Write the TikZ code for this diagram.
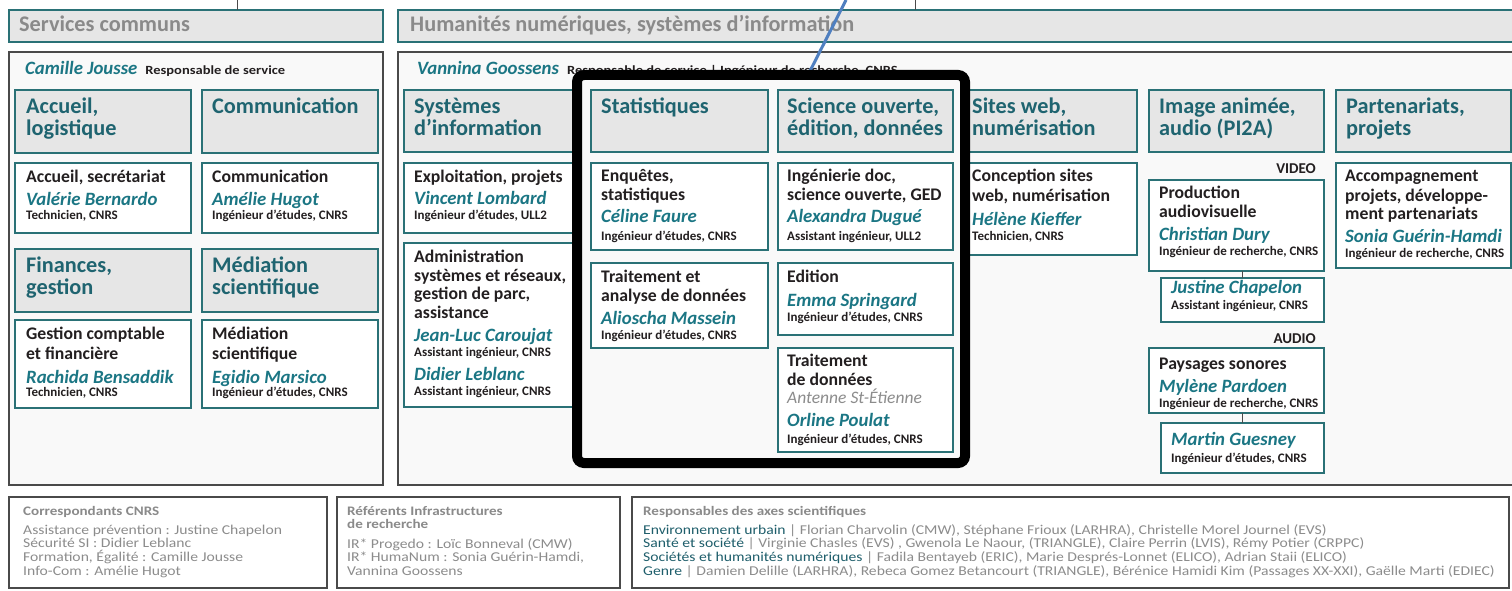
\documentclass[tikz,border=0pt]{standalone}
\usepackage{fontspec}
\setmainfont{Carlito}
\newfontfamily\botf{Carlito}[FakeStretch=1.16]
\definecolor{bord}{HTML}{2A7176}
\definecolor{hfill}{HTML}{E6E6E6}
\definecolor{htxt}{HTML}{1F6470}
\definecolor{nmcol}{HTML}{1B7684}
\definecolor{dtxt}{HTML}{231F20}
\definecolor{gtxt}{HTML}{8C8C8C}
\definecolor{grpb}{HTML}{4A4A4A}
\definecolor{grpf}{HTML}{F9F9F9}
\definecolor{bluel}{HTML}{4F7FC0}
\definecolor{axc}{HTML}{1E5E6B}
\definecolor{hdgray}{HTML}{8A8A8A}
\newcommand\Nm[1]{{\fontsize{18.8}{0}\selectfont\bfseries\itshape\color{nmcol}#1}}
\newcommand\Ro[1]{{\fontsize{13}{0}\selectfont\bfseries #1}}
\newcommand\St[1]{\rule{0pt}{#1pt}}
\newcommand\LsK{\lineskiplimit=-100pt\relax}
\newcommand\Ax[1]{{\color{axc}#1}}
\newcommand\Bt[1]{{\fontsize{13}{0}\selectfont\bfseries\color{hdgray}#1}}
\newcommand\Rs[1]{{\botf\fontsize{12.5}{14}\selectfont\bfseries\color{dtxt}#1}}
\tikzset{
  hdr/.style={draw=bord, line width=1.5pt, fill=hfill, anchor=north west, inner sep=0pt, outer sep=0pt},
  cbox/.style={draw=bord, line width=1.5pt, fill=white, anchor=north west, inner sep=0pt, outer sep=0pt},
  grp/.style={draw=grpb, line width=1.6pt, fill=grpf, anchor=north west, inner sep=0pt, outer sep=0pt},
  bbox/.style={draw=grpb, line width=1.4pt, fill=white, anchor=north west, inner sep=0pt, outer sep=0pt},
  htx/.style={anchor=north west, inner sep=0pt, align=left, text=htxt, font=\fontsize{22.3}{0}\selectfont\bfseries\LsK},
  ctx/.style={anchor=north west, inner sep=0pt, align=left, text=dtxt, font=\fontsize{17.7}{0}\selectfont\bfseries\LsK},
  btx/.style={anchor=north west, inner sep=0pt, align=left, text=gtxt, font=\botf\fontsize{13.5}{0}\selectfont\LsK},
  lbl/.style={anchor=base east, inner sep=0pt, text=dtxt, font=\fontsize{15}{0}\selectfont\bfseries},
  conn/.style={draw=grpb, line width=0.8pt},
  blk/.style={draw=black, line width=10pt, rounded corners=7pt, fill=grpf, anchor=north west, inner sep=0pt, outer sep=0pt},
}
\begin{document}
\begin{tikzpicture}[x=1pt,y=-1pt]
\useasboundingbox (0,0) rectangle (1512,591);
\fill[white] (0,0) rectangle (1512,591);
\coordinate (t1) at (237,0);
\coordinate (t2) at (915,0);

% ===== Services communs =====
\node[hdr, minimum width=374pt, minimum height=32pt] (hSC) at (9,10) {};
\node[htx, text=hdgray] (hSCt) at ([shift={(10pt,-4pt)}]hSC.north west) {\St{17}Services communs};
\draw[conn] (t1) -- (t1 |- hSC.north);
\node[grp, minimum width=374pt, minimum height=433pt] (gSC) at (9,52) {};
\node[anchor=base west, inner sep=0pt] (cj) at (25,75) {\Nm{Camille Jousse}\hspace{8pt}\Rs{Responsable de service}};

\node[hdr, minimum width=176pt, minimum height=63pt] (acc) at (15,90) {};
\node[htx] (accT) at ([shift={(11pt,-6pt)}]acc.north west) {\St{17}Accueil,\\[22pt]logistique};
\node[hdr, minimum width=176pt, minimum height=63pt] (com) at (202,90) {};
\node[htx] (comT) at ([shift={(10pt,-6pt)}]com.north west) {\St{17}Communication};

\node[cbox, minimum width=176pt, minimum height=70pt] (accB) at (15,163) {};
\node[ctx] (accBt) at ([shift={(11pt,-5pt)}]accB.north west) {\St{14}Accueil, secrétariat\\[23pt]\Nm{Valérie Bernardo}\\[14pt]\Ro{Technicien, CNRS}};
\node[cbox, minimum width=176pt, minimum height=70pt] (comB) at (202,163) {};
\node[ctx] (comBt) at ([shift={(10pt,-5pt)}]comB.north west) {\St{14}Communication\\[23pt]\Nm{Amélie Hugot}\\[14pt]\Ro{Ingénieur d’études, CNRS}};

\node[hdr, minimum width=176pt, minimum height=63pt] (fin) at (15,249) {};
\node[htx] (finT) at ([shift={(11pt,-6pt)}]fin.north west) {\St{17}Finances,\\[22pt]gestion};
\node[hdr, minimum width=176pt, minimum height=63pt] (med) at (202,249) {};
\node[htx] (medT) at ([shift={(10pt,-6pt)}]med.north west) {\St{17}Médiation\\[22pt]scientifique};

\node[cbox, minimum width=176pt, minimum height=88pt] (finB) at (15,320) {};
\node[ctx] (finBt) at ([shift={(11pt,-5pt)}]finB.north west) {\St{14}Gestion comptable\\[20pt]et financière\\[24pt]\Nm{Rachida Bensaddik}\\[13pt]\Ro{Technicien, CNRS}};
\node[cbox, minimum width=176pt, minimum height=88pt] (medB) at (202,320) {};
\node[ctx] (medBt) at ([shift={(10pt,-5pt)}]medB.north west) {\St{14}Médiation\\[20pt]scientifique\\[24pt]\Nm{Egidio Marsico}\\[13pt]\Ro{Ingénieur d’études, CNRS}};

% ===== Humanités numériques =====
\node[hdr, minimum width=1125pt, minimum height=32pt] (hHN) at (398,10) {};
\node[htx, text=hdgray] (hHNt) at ([shift={(12pt,-4pt)}]hHN.north west) {\St{17}Humanités numériques, systèmes d’information};
\draw[conn] (t2) -- (t2 |- hHN.north);
\node[grp, minimum width=1125pt, minimum height=433pt] (gHN) at (398,52) {};
\node[anchor=base west, inner sep=0pt] (vg) at (417,75) {\Nm{Vannina Goossens}\hspace{8pt}\Rs{Responsable de service | Ingénieur de recherche, CNRS}};

% Systemes d'information
\node[hdr, minimum width=176pt, minimum height=62pt] (sys) at (404,90) {};
\node[htx] (sysT) at ([shift={(10pt,-6pt)}]sys.north west) {\St{17}Systèmes\\[22pt]d’information};
\node[cbox, minimum width=176pt, minimum height=70pt] (sysB1) at (404,163) {};
\node[ctx] (sysB1t) at ([shift={(10pt,-5pt)}]sysB1.north west) {\St{14}Exploitation, projets\\[22pt]\Nm{Vincent Lombard}\\[15pt]\Ro{Ingénieur d’études, ULL2}};
\node[cbox, minimum width=176pt, minimum height=164pt] (sysB2) at (404,243) {};
\node[ctx] (sysB2t) at ([shift={(10pt,-5pt)}]sysB2.north west) {\St{14}Administration\\[19pt]systèmes et réseaux,\\[18pt]gestion de parc,\\[19pt]assistance\\[23pt]\Nm{Jean-Luc Caroujat}\\[15pt]\Ro{Assistant ingénieur, CNRS}\\[24pt]\Nm{Didier Leblanc}\\[15pt]\Ro{Assistant ingénieur, CNRS}};

% Sites web
\node[hdr, minimum width=175pt, minimum height=62pt] (web) at (962,90) {};
\node[htx] (webT) at ([shift={(10pt,-6pt)}]web.north west) {\St{17}Sites web,\\[22pt]numérisation};
\node[cbox, minimum width=175pt, minimum height=92pt] (webB) at (962,163) {};
\node[ctx] (webBt) at ([shift={(10pt,-4pt)}]webB.north west) {\St{14}Conception sites\\[20pt]web, numérisation\\[24pt]\Nm{Hélène Kieffer}\\[15pt]\Ro{Technicien, CNRS}};

% pointer line and highlight frame
\coordinate (bl1) at (846,0);
\coordinate (bl2) at (809,73);
\draw[bluel, line width=3pt] (bl1) -- (bl2);
\node[blk, minimum width=388pt, minimum height=388pt] (hl) at (577,75) {};

% Statistiques
\node[hdr, minimum width=177pt, minimum height=62pt] (sta) at (591,90) {};
\node[htx] (staT) at ([shift={(10pt,-6pt)}]sta.north west) {\St{17}Statistiques};
\node[cbox, minimum width=177pt, minimum height=87pt] (staB1) at (591,163) {};
\node[ctx] (staB1t) at ([shift={(10pt,-4pt)}]staB1.north west) {\St{14}Enquêtes,\\[19pt]statistiques\\[22pt]\Nm{Céline Faure}\\[18pt]\Ro{Ingénieur d’études, CNRS}};
\node[cbox, minimum width=177pt, minimum height=85pt] (staB2) at (591,263) {};
\node[ctx] (staB2t) at ([shift={(10pt,-5pt)}]staB2.north west) {\St{14}Traitement et\\[19pt]analyse de données\\[23pt]\Nm{Alioscha Massein}\\[15pt]\Ro{Ingénieur d’études, CNRS}};

% Science ouverte
\node[hdr, minimum width=175pt, minimum height=62pt] (sci) at (778,90) {};
\node[htx] (sciT) at ([shift={(9pt,-6pt)}]sci.north west) {\St{17}Science ouverte,\\[22pt]édition, données};
\node[cbox, minimum width=175pt, minimum height=87pt] (sciB1) at (778,163) {};
\node[ctx] (sciB1t) at ([shift={(9pt,-4pt)}]sciB1.north west) {\St{14}Ingénierie doc,\\[19pt]science ouverte, GED\\[22pt]\Nm{Alexandra Dugué}\\[18pt]\Ro{Assistant ingénieur, ULL2}};
\node[cbox, minimum width=175pt, minimum height=72pt] (sciB2) at (778,263) {};
\node[ctx] (sciB2t) at ([shift={(9pt,-5pt)}]sciB2.north west) {\St{14}Edition\\[24pt]\Nm{Emma Springard}\\[15pt]\Ro{Ingénieur d’études, CNRS}};
\node[cbox, minimum width=175pt, minimum height=104pt] (sciB3) at (778,348) {};
\node[ctx] (sciB3t) at ([shift={(9pt,-4pt)}]sciB3.north west) {\St{14}Traitement\\[19pt]de données\\[18pt]{\fontsize{17.5}{0}\selectfont\mdseries\itshape\color{gtxt}Antenne St-Étienne}\\[23pt]\Nm{Orline Poulat}\\[17pt]\Ro{Ingénieur d’études, CNRS}};

% Image animee
\node[hdr, minimum width=175pt, minimum height=62pt] (img) at (1149,90) {};
\node[htx] (imgT) at ([shift={(10pt,-6pt)}]img.north west) {\St{17}Image animée,\\[22pt]audio (PI2A)};
\node[lbl] (vid) at (1316,173) {VIDEO};
\node[cbox, minimum width=175pt, minimum height=91pt] (imgB1) at (1149,180) {};
\node[ctx] (imgB1t) at ([shift={(10pt,-4pt)}]imgB1.north west) {\St{14}Production\\[19pt]audiovisuelle\\[23pt]\Nm{Christian Dury}\\[15pt]\Ro{Ingénieur de recherche, CNRS}};
\node[cbox, minimum width=163pt, minimum height=44pt] (imgB2) at (1161,278) {};
\node[ctx] (imgB2t) at ([shift={(10pt,-1pt)}]imgB2.north west) {\St{14}\Nm{Justine Chapelon}\\[16pt]\Ro{Assistant ingénieur, CNRS}};
\draw[conn] (imgB2.north) -- (imgB2.north |- imgB1.south);
\node[lbl] (aud) at (1316,343) {AUDIO};
\node[cbox, minimum width=175pt, minimum height=65pt] (imgB3) at (1149,348) {};
\node[ctx] (imgB3t) at ([shift={(10pt,-7pt)}]imgB3.north west) {\St{14}Paysages sonores\\[23pt]\Nm{Mylène Pardoen}\\[15pt]\Ro{Ingénieur de recherche, CNRS}};
\node[cbox, minimum width=163pt, minimum height=50pt] (imgB4) at (1161,423) {};
\node[ctx] (imgB4t) at ([shift={(10pt,-8pt)}]imgB4.north west) {\St{14}\Nm{Martin Guesney}\\[17pt]\Ro{Ingénieur d’études, CNRS}};
\draw[conn] (imgB4.north) -- (imgB4.north |- imgB3.south);

% Partenariats
\node[hdr, minimum width=175pt, minimum height=62pt] (par) at (1336,90) {};
\node[htx] (parT) at ([shift={(10pt,-6pt)}]par.north west) {\St{17}Partenariats,\\[22pt]projets};
\node[cbox, minimum width=175pt, minimum height=105pt] (parB) at (1336,163) {};
\node[ctx] (parBt) at ([shift={(9pt,-4pt)}]parB.north west) {\St{14}Accompagnement\\[20pt]projets, développe-\\[18pt]ment partenariats\\[23pt]\Nm{Sonia Guérin-Hamdi}\\[15pt]\Ro{Ingénieur de recherche, CNRS}};

% ===== Bottom boxes =====
\node[bbox, minimum width=318pt, minimum height=91pt] (cor) at (9,497) {};
\node[btx] (cort) at ([shift={(14pt,-7pt)}]cor.north west) {\St{11}\Bt{Correspondants CNRS}\\[19pt]Assistance prévention : Justine Chapelon\\[13.7pt]Sécurité SI : Didier Leblanc\\[13.7pt]Formation, Égalité : Camille Jousse\\[13.7pt]Info-Com : Amélie Hugot};
\node[bbox, minimum width=283pt, minimum height=91pt] (ref) at (337,497) {};
\node[btx] (reft) at ([shift={(10pt,-7pt)}]ref.north west) {\St{11}\Bt{Référents Infrastructures}\\[13pt]\Bt{de recherche}\\[20pt]IR* Progedo : Loïc Bonneval (CMW)\\[13.5pt]IR* HumaNum : Sonia Guérin-Hamdi,\\[13.5pt]Vannina Goossens};
\node[bbox, minimum width=877pt, minimum height=91pt] (resp) at (632,497) {};
\node[btx] (respt) at ([shift={(11pt,-7pt)}]resp.north west) {\St{11}\Bt{Responsables des axes scientifiques}\\[19pt]\Ax{Environnement urbain} | Florian Charvolin (CMW), Stéphane Frioux (LARHRA), Christelle Morel Journel (EVS)\\[13.7pt]\Ax{Santé et société} | Virginie Chasles (EVS) , Gwenola Le Naour, (TRIANGLE), Claire Perrin (LVIS), Rémy Potier (CRPPC)\\[13.7pt]\Ax{Sociétés et humanités numériques} | Fadila Bentayeb (ERIC), Marie Després-Lonnet (ELICO), Adrian Staii (ELICO)\\[13.7pt]\Ax{Genre} | Damien Delille (LARHRA), Rebeca Gomez Betancourt (TRIANGLE), Bérénice Hamidi Kim (Passages XX-XXI), Gaëlle Marti (EDIEC)};
\end{tikzpicture}
\end{document}
